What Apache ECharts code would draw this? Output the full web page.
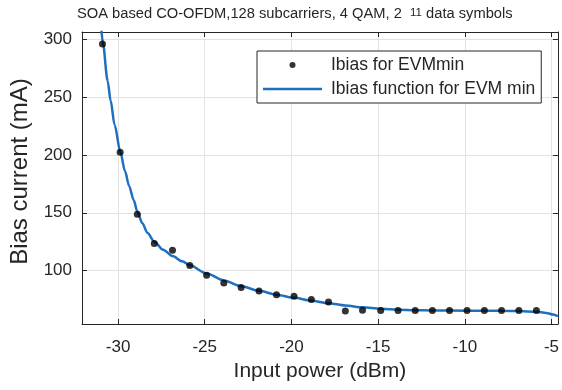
<!DOCTYPE html>
<html>
<head>
<meta charset="utf-8">
<script src="https://cdn.jsdelivr.net/npm/echarts@6/dist/echarts.min.js"></script>
<style>html,body{margin:0;padding:0;background:#fff}#c{width:562px;height:390px}</style>
</head>
<body>
<div id="c"></div>
<script>
// Measured points: Ibias for EVMmin
const pointX = [-30.9, -29.88, -28.89, -27.91, -26.86, -25.86, -24.89, -23.9, -22.9, -21.87, -20.86, -19.85, -18.85, -17.86, -16.89, -15.9, -14.85, -13.85, -12.86, -11.87, -10.88, -9.87, -8.87, -7.88, -6.88, -5.87];
const pointY = [296, 202.4, 148.7, 123.4, 117.6, 104.3, 95.9, 89.3, 85.3, 82.3, 79.2, 77.7, 74.9, 72.8, 65, 65.6, 65.5, 65.5, 65.5, 65.5, 65.5, 65.5, 65.5, 65.5, 65.5, 65.5];
// Fitted curve
const curveX = [-30.97, -30.88, -30.6, -30.43, -30.2, -29.86, -29.6, -29.36, -29.1, -28.89, -28.6, -28.3, -27.91, -27.4, -26.86, -26.3, -25.86, -24.89, -23.9, -22.9, -21.87, -20.86, -19.85, -18.85, -17.86, -16.89, -15.9, -14.85, -13.85, -12.86, -11.87, -9.87, -7.88, -6.88, -5.87, -5.3, -4.9, -4.63];
const curveY = [310, 297, 264, 247, 226, 202, 186, 173, 161, 151, 141, 132.5, 125, 118, 112.5, 108, 104.5, 97.5, 91.5, 86.5, 82.5, 79.2, 76.5, 74, 71.8, 69.8, 68.2, 67, 66.2, 65.7, 65.5, 65.3, 65.2, 65, 64.4, 63.4, 62, 60.5];
const xTicks = [-30, -25, -20, -15, -10, -5];
const yTicks = [100, 150, 200, 250, 300];
const xRange = [-32.08, -4.63];
const yRange = [53.8, 306.3];
const titleParts = ['SOA based CO-OFDM,128 subcarriers, 4 QAM, 2  ', '11', ' data symbols'];
const xName = 'Input power (dBm)';
const yName = 'Bias current (mA)';
const names = ['Ibias for EVMmin', 'Ibias function for EVM min'];

const pts = pointX.map((x, i) => [x, pointY[i]]);
const crv = curveX.map((x, i) => [x, curveY[i]]);
const txt = '#262626';
const blue = '#1f6fbf';
const font = 'Liberation Sans, Arial, sans-serif';

const chart = echarts.init(document.getElementById('c'), null, {renderer: 'canvas'});
const boxAxis = {
  type: 'value',
  axisLine: {show: true, onZero: false, lineStyle: {color: txt, width: 1}},
  axisLabel: {show: false}, splitLine: {show: false}
};
chart.setOption({
  animation: false,
  backgroundColor: '#fff',
  title: {
    text: '{a|' + titleParts[0] + '}{s|' + titleParts[1] + '}{a|' + titleParts[2] + '}',
    left: 77, top: 6.8, padding: 0,
    textStyle: {
      fontFamily: font, fontWeight: 'normal',
      rich: {
        a: {fontSize: 14.7, lineHeight: 15, color: txt, fontFamily: font, fontWeight: 'normal', verticalAlign: 'bottom'},
        s: {fontSize: 11.5, lineHeight: 11.5, color: txt, fontFamily: font, fontWeight: 'normal', verticalAlign: 'top', padding: [0, 0, 7.5, 0]}
      }
    }
  },
  legend: {
    orient: 'vertical', left: 257, top: 51,
    padding: [4, 6, 4, 6], itemGap: 4,
    itemWidth: 59, itemHeight: 6,
    backgroundColor: '#fff', borderColor: txt, borderWidth: 1, borderRadius: 0,
    textStyle: {fontSize: 17.5, lineHeight: 20, color: txt, fontFamily: font, padding: [0, 0, 0, 4]},
    data: [
      {name: names[0], icon: 'circle', itemStyle: {color: '#000'}},
      {name: names[1], icon: 'path://M0,0L0.01,0L0,0.01Z M0,1.75H59V4.25H0Z M59,6L58.99,6L59,5.99Z', itemStyle: {color: blue}}
    ]
  },
  grid: {left: 79, right: 1, top: 32, bottom: 66, containLabel: false},
  xAxis: [{
    type: 'value', min: xRange[0], max: xRange[1],
    name: xName, nameLocation: 'middle', nameGap: 37,
    nameTextStyle: {fontSize: 21, color: txt, fontFamily: font},
    axisLine: {show: true, onZero: false, lineStyle: {color: txt, width: 1}},
    axisTick: {show: true, inside: true, length: 5, lineStyle: {color: txt}, customValues: xTicks},
    axisLabel: {show: true, margin: 15, fontSize: 17, color: txt, fontFamily: font, customValues: xTicks},
    splitLine: {show: true, lineStyle: {color: '#e3e3e3', width: 1}}
  }, Object.assign({}, boxAxis, {position: 'top', min: xRange[0], max: xRange[1],
    axisTick: {show: true, inside: true, length: 5, lineStyle: {color: txt}, customValues: xTicks}})],
  yAxis: [{
    type: 'value', min: yRange[0], max: yRange[1],
    name: yName, nameLocation: 'middle', nameGap: 50,
    nameTextStyle: {fontSize: 24, color: txt, fontFamily: font, padding: [0, 0, 0, 13]},
    axisLine: {show: true, onZero: false, lineStyle: {color: txt, width: 1}},
    axisTick: {show: true, inside: true, length: 5, lineStyle: {color: txt}, customValues: yTicks},
    axisLabel: {show: true, margin: 10, fontSize: 17, color: txt, fontFamily: font, customValues: yTicks},
    splitLine: {show: true, lineStyle: {color: '#e3e3e3', width: 1}}
  }, Object.assign({}, boxAxis, {position: 'right', min: yRange[0], max: yRange[1],
    axisTick: {show: true, inside: true, length: 5, lineStyle: {color: txt}, customValues: yTicks}})],
  series: [{
    name: names[1], type: 'line', data: crv, smooth: 0.3, smoothMonotone: 'x',
    symbol: 'none', showSymbol: false, clip: true, z: 2,
    lineStyle: {color: blue, width: 2.5}, itemStyle: {color: blue}
  }, {
    name: names[0], type: 'scatter', data: pts, symbol: 'circle', symbolSize: 7, z: 3,
    itemStyle: {color: '#000'}
  }]
});
</script>
</body>
</html>
